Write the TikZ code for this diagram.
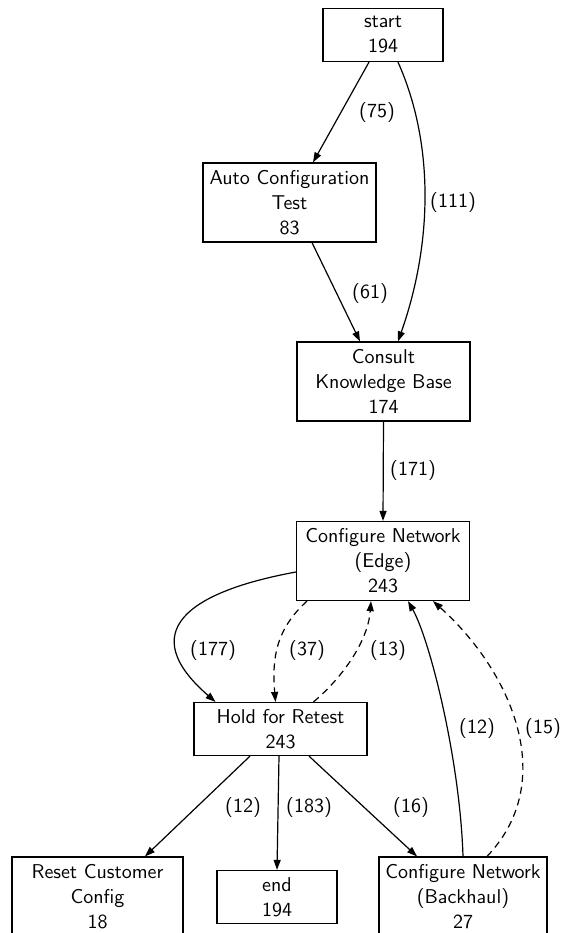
\documentclass[tikz,border=0pt]{standalone}
\usepackage{tikz}
\usetikzlibrary{arrows.meta,calc}

\begin{document}
\begin{tikzpicture}[x=0.5pt,y=-0.5pt,
  box/.style={draw, line width=0.6pt, align=center, inner sep=0pt, font=\sffamily\fontsize{10pt}{12.5pt}\selectfont},
  tall/.style={box, minimum width=86.5pt, minimum height=39.5pt},
  flat/.style={box, minimum width=60pt, minimum height=26.5pt},
  flow/.style={line width=0.6pt, -{Triangle[length=5pt,width=3.5pt]}},
  back/.style={flow, dash pattern=on 3.5pt off 2.5pt},
  lbl/.style={font=\sffamily\fontsize{10pt}{12.5pt}\selectfont}]
\useasboundingbox (0,0) rectangle (561,933);
\node[flat] (start) at (383,35) {start\\194};
\node[tall] (autotest) at (289.5,202.5) {Auto Configuration\\Test\\83};
\node[tall] (consult) at (383.5,381.5) {Consult\\Knowledge Base\\174};
\node[tall] (cfgedge) at (383,561) {Configure Network\\(Edge)\\243};
\node[flat, minimum width=86.5pt] (hold) at (280.5,729) {Hold for Retest\\243};
\node[tall, minimum width=85.5pt] (reset) at (97.5,896.5) {Reset Customer\\Config\\18};
\node[flat] (finish) at (277,897) {end\\194};
\node[tall, minimum width=84pt] (backhaul) at (463,896.5) {Configure Network\\(Backhaul)\\27};
\draw[flow] ($(start.south)+(-14,0)$) -- ($(autotest.north)+(23.5,0)$);
\draw[flow] ($(start.south)+(15,0)$) .. controls (435,145) and (432,245) .. ($(consult.north)+(14.5,0)$);
\draw[flow] ($(autotest.south)+(22.5,0)$) -- ($(consult.north)+(-23.5,0)$);
\draw[flow] (consult.south) -- (cfgedge.north);
\draw[flow] ($(cfgedge.west)+(0,11)$) .. controls (187,592) and (135,632) .. ($(hold.north)+(-65,0)$);
\draw[back] ($(cfgedge.south)+(-76,0)$) .. controls (275,630) and (272,660) .. ($(hold.north)+(-5,0)$);
\draw[back] ($(hold.north)+(33,0)$) .. controls (343,677) and (368,641) .. ($(cfgedge.south)+(-12,0)$);
\draw[flow] (backhaul.north) .. controls (460,760) and (430,640) .. ($(cfgedge.south)+(25,0)$);
\draw[back] ($(backhaul.north)+(24,0)$) .. controls (560,780) and (510,670) .. ($(cfgedge.south)+(50,0)$);
\draw[flow] ($(hold.south)+(-30.5,0)$) -- ($(reset.north)+(47.5,0)$);
\draw[flow] ($(hold.south)+(-1.5,0)$) -- (finish.north);
\draw[flow] ($(hold.south)+(28.5,0)$) -- ($(backhaul.north)+(-46,0)$);
\node[lbl] (n75) at (377,112) {(75)};
\node[lbl] (n111) at (453,202) {(111)};
\node[lbl] (n61) at (370,293) {(61)};
\node[lbl] (n171) at (413,470) {(171)};
\node[lbl] (n177) at (213,650) {(177)};
\node[lbl] (n37) at (307,650) {(37)};
\node[lbl] (n13) at (388,650) {(13)};
\node[lbl] (n12b) at (477,728) {(12)};
\node[lbl] (n15) at (543,728) {(15)};
\node[lbl] (n12a) at (243,807) {(12)};
\node[lbl] (n183) at (309,807) {(183)};
\node[lbl] (n16) at (411,807) {(16)};
\end{tikzpicture}
\end{document}
